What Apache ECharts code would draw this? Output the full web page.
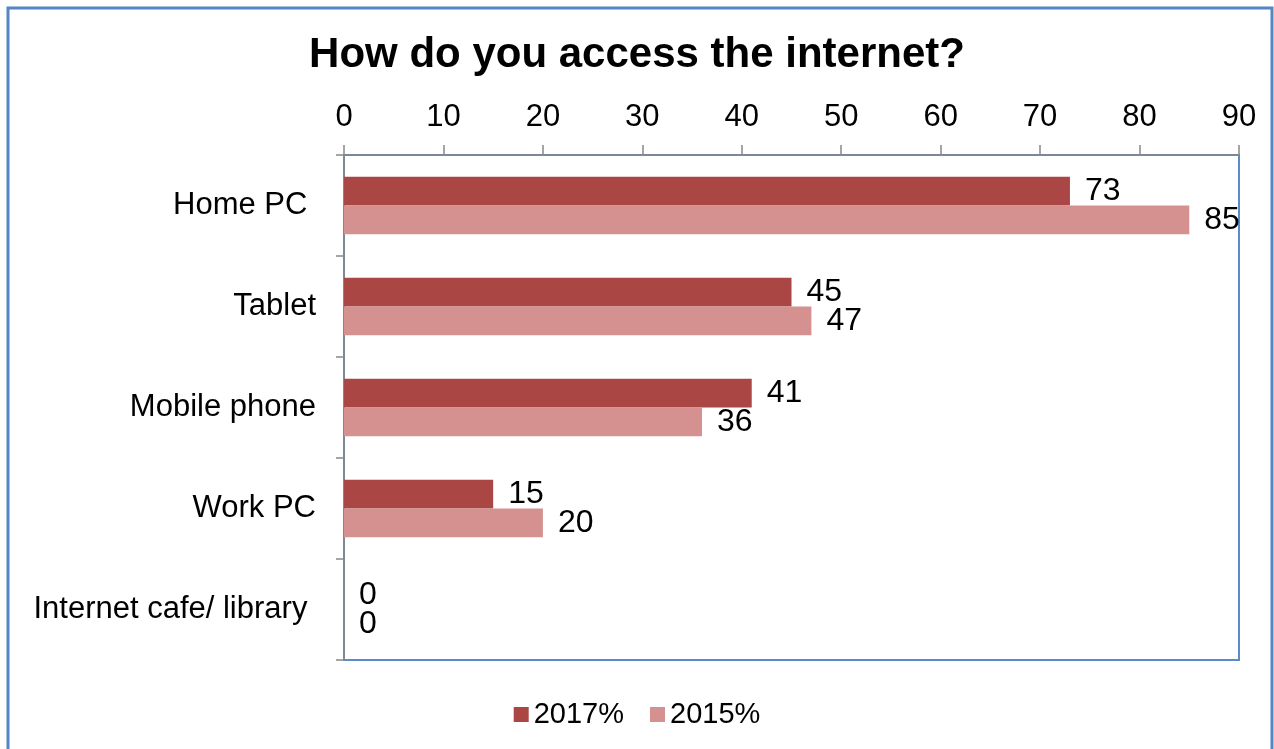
<!DOCTYPE html>
<html>
<head>
<meta charset="utf-8">
<style>
  html, body { margin: 0; padding: 0; background: #fff; }
  #chart { width: 1274px; height: 749px; }
</style>
<script src="https://cdn.jsdelivr.net/npm/echarts@6/dist/echarts.min.js"></script>
</head>
<body>
<div id="chart"></div>
<script>
// Access channels, listed top to bottom
const categories = ['Home PC ', 'Tablet', 'Mobile phone', 'Work PC', 'Internet cafe/ library '];
// Share of respondents (%) per survey year
const values2017 = [73, 45, 41, 15, 0];
const values2015 = [85, 47, 36, 20, 0];
const seriesNames = ['2017%', '2015%'];
// Value axis ticks
const axisMin = 0;
const axisMax = 90;
const axisStep = 10;

const FONT = '"Liberation Sans", Arial, sans-serif';
const chart = echarts.init(document.getElementById('chart'), null, { renderer: 'canvas' });

const labelStyle = {
  show: true,
  position: 'right',
  distance: 15,
  color: '#000',
  fontFamily: FONT,
  fontSize: 32
};

chart.setOption({
  animation: false,
  backgroundColor: '#fff',
  title: {
    text: 'How do you access the internet?',
    left: 'center',
    top: 29,
    textStyle: { fontFamily: FONT, fontSize: 42, fontWeight: 'bold', color: '#000' }
  },
  graphic: [{
    type: 'rect',
    shape: { x: 8, y: 8, width: 1264, height: 770 },
    style: { fill: 'none', stroke: '#5585C2', lineWidth: 3 },
    silent: true
  }],
  legend: {
    bottom: 15,
    left: 'center',
    icon: 'rect',
    itemWidth: 15,
    itemHeight: 15,
    itemGap: 26,
    textStyle: { fontFamily: FONT, fontSize: 29, color: '#000' },
    data: seriesNames
  },
  grid: {
    left: 344,
    right: 35,
    top: 155,
    bottom: 89,
    show: true,
    borderColor: '#5B8BC9',
    borderWidth: 2,
    backgroundColor: '#fff'
  },
  xAxis: {
    type: 'value',
    position: 'top',
    min: axisMin,
    max: axisMax,
    interval: axisStep,
    axisLine: { show: true, lineStyle: { color: '#888', width: 1.5 } },
    axisTick: { show: true, inside: false, length: 10, lineStyle: { color: '#888', width: 1.5 } },
    splitLine: { show: false },
    axisLabel: { color: '#000', fontFamily: FONT, fontSize: 31, margin: 22 }
  },
  yAxis: {
    type: 'category',
    inverse: true,
    data: categories,
    axisLine: { show: true, lineStyle: { color: '#888', width: 1.5 } },
    axisTick: { show: true, inside: false, length: 8, lineStyle: { color: '#888', width: 1.5 } },
    axisLabel: { color: '#000', fontFamily: FONT, fontSize: 31, margin: 28 }
  },
  series: [
    {
      name: seriesNames[0],
      type: 'bar',
      data: values2017,
      barGap: '0%',
      barCategoryGap: '43%',
      itemStyle: { color: '#AA4644' },
      label: labelStyle
    },
    {
      name: seriesNames[1],
      type: 'bar',
      data: values2015,
      barGap: '0%',
      barCategoryGap: '43%',
      itemStyle: { color: '#D4918F' },
      label: labelStyle
    }
  ]
});
</script>
</body>
</html>
